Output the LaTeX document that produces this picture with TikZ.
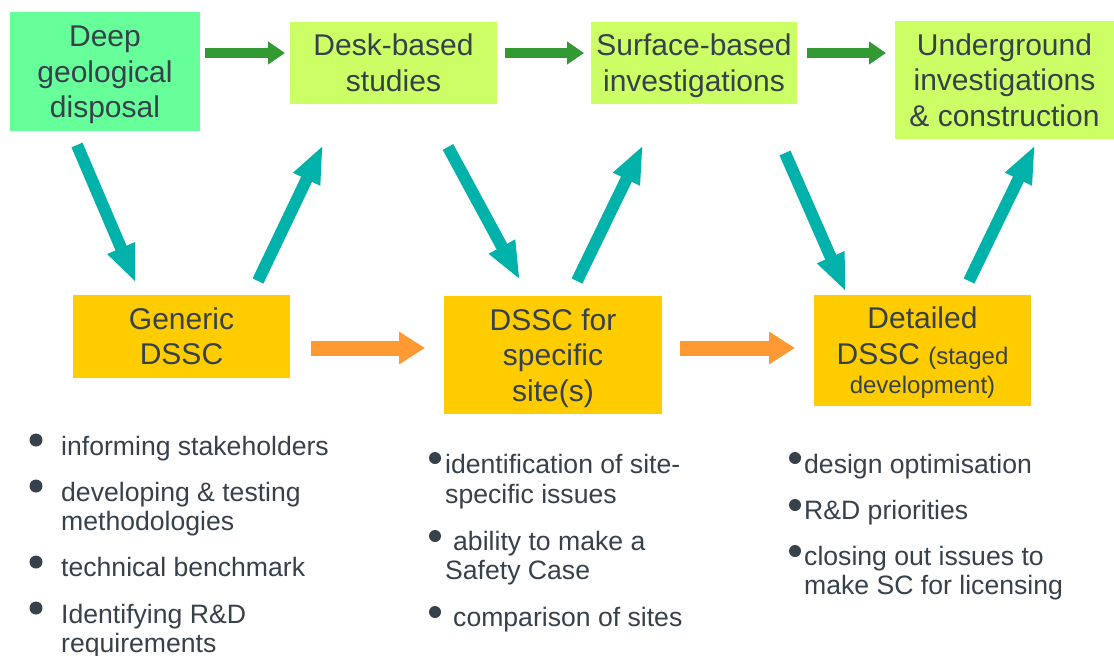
\documentclass[tikz,border=0pt]{standalone}
\usepackage{fontspec}
\setmainfont{Liberation Sans}
\usetikzlibrary{arrows.meta}
\definecolor{txt}{RGB}{55,65,75}
\definecolor{mint}{RGB}{102,255,153}
\definecolor{lime}{RGB}{204,255,102}
\definecolor{gold}{RGB}{255,204,0}
\definecolor{darrow}{RGB}{51,153,51}
\definecolor{tarrow}{RGB}{0,178,169}
\definecolor{oarrow}{RGB}{255,153,51}
\newcommand\boxlines[1]{\raisebox{-3.5pt}[\height][\depth]{\begin{tabular}{@{}c@{}}#1\end{tabular}}}
\tikzset{
  box/.style={inner sep=0pt, text=txt, font=\fontsize{30}{35.5}\selectfont},
  itemtext/.style={anchor=base west, inner sep=0pt, text=txt, font=\fontsize{26.6}{29}\selectfont},
  bigdot/.style={circle, fill=txt, inner sep=0pt, minimum size=13pt},
  smalldot/.style={circle, fill=txt, inner sep=0pt, minimum size=12pt},
  garrow/.style={draw=darrow, line width=10pt, -{Triangle[length=17pt,width=22pt]}},
  tarr/.style={draw=tarrow, line width=12pt, -{Triangle[length=38pt,width=27pt]}},
  oarr/.style={draw=oarrow, line width=15pt, -{Triangle[length=26pt,width=31pt]}}
}
\begin{document}
\begin{tikzpicture}[x=1pt,y=-1pt]
\useasboundingbox[fill=white] (0,0) rectangle (1114,656);
% top boxes
\node[box, fill=mint, minimum width=190pt, minimum height=119pt] (deep) at (105,71.5) {\boxlines{Deep\\geological\\disposal}};
\node[box, fill=lime, minimum width=207pt, minimum height=82pt] (desk) at (393.5,63) {\boxlines{Desk-based\\studies}};
\node[box, fill=lime, minimum width=206pt, minimum height=82pt] (surf) at (694,63) {\boxlines{Surface-based\\investigations}};
\node[box, fill=lime, minimum width=219pt, minimum height=118pt] (under) at (1004.5,80) {\boxlines{Underground\\investigations\\\& construction}};
% bottom boxes
\node[box, fill=gold, minimum width=217pt, minimum height=83pt] (gen) at (181.5,336.5) {\boxlines{Generic\\DSSC}};
\node[box, fill=gold, minimum width=218pt, minimum height=118pt] (site) at (553,355) {\boxlines{DSSC for\\specific\\site(s)}};
\node[box, fill=gold, minimum width=217pt, minimum height=111pt] (det) at (922.5,350.5) {\boxlines{Detailed\\DSSC {\fontsize{24}{28}\selectfont (staged}\\[-6.5pt]{\fontsize{24}{28}\selectfont development)}}};
% arrow end points
\coordinate (g1s) at (205,53); \coordinate (g1e) at (285,53);
\coordinate (g2s) at (505,53); \coordinate (g2e) at (584,53);
\coordinate (g3s) at (807,53); \coordinate (g3e) at (886,53);
\coordinate (t1s) at (77,145);  \coordinate (t1e) at (136,283);
\coordinate (t2s) at (258,281); \coordinate (t2e) at (323,145);
\coordinate (t3s) at (448,147); \coordinate (t3e) at (520,280);
\coordinate (t4s) at (577,281); \coordinate (t4e) at (643,145);
\coordinate (t5s) at (785,153); \coordinate (t5e) at (846,292);
\coordinate (t6s) at (969,281); \coordinate (t6e) at (1035,145);
\coordinate (o1s) at (311,348); \coordinate (o1e) at (425,348);
\coordinate (o2s) at (680,348); \coordinate (o2e) at (795,348);
\draw[garrow] (g1s) -- (g1e);
\draw[garrow] (g2s) -- (g2e);
\draw[garrow] (g3s) -- (g3e);
\draw[tarr] (t1s) -- (t1e);
\draw[tarr] (t2s) -- (t2e);
\draw[tarr] (t3s) -- (t3e);
\draw[tarr] (t4s) -- (t4e);
\draw[tarr] (t5s) -- (t5e);
\draw[tarr] (t6s) -- (t6e);
\draw[oarr] (o1s) -- (o1e);
\draw[oarr] (o2s) -- (o2e);
% left bullets
\node[bigdot] (lb1) at (36,440) {};
\node[itemtext] (l1) at (61,455) {informing stakeholders};
\node[bigdot] (lb2) at (36,486) {};
\node[itemtext] (l2a) at (61,501) {developing \& testing};
\node[itemtext] (l2b) at (61,530) {methodologies};
\node[bigdot] (lb3) at (36,562) {};
\node[itemtext] (l3) at (61,576) {technical benchmark};
\node[bigdot] (lb4) at (36,608) {};
\node[itemtext] (l4a) at (61,623) {Identifying R\&D};
\node[itemtext] (l4b) at (61,652) {requirements};
% middle bullets
\node[smalldot] (mb1) at (435,458) {};
\node[itemtext] (m1a) at (445,473) {identification of site-};
\node[itemtext] (m1b) at (445,503) {specific issues};
\node[smalldot] (mb2) at (435,536) {};
\node[itemtext] (m2a) at (453,550) {ability to make a};
\node[itemtext] (m2b) at (445,579) {Safety Case};
\node[smalldot] (mb3) at (435,612) {};
\node[itemtext] (m3) at (453,626) {comparison of sites};
% right bullets
\node[smalldot] (rb1) at (795,458) {};
\node[itemtext] (r1) at (804,473) {design optimisation};
\node[smalldot] (rb2) at (795,505) {};
\node[itemtext] (r2) at (804,519) {R\&D priorities};
\node[smalldot] (rb3) at (795,551) {};
\node[itemtext] (r3a) at (804,565) {closing out issues to};
\node[itemtext] (r3b) at (804,594) {make SC for licensing};
\end{tikzpicture}
\end{document}
